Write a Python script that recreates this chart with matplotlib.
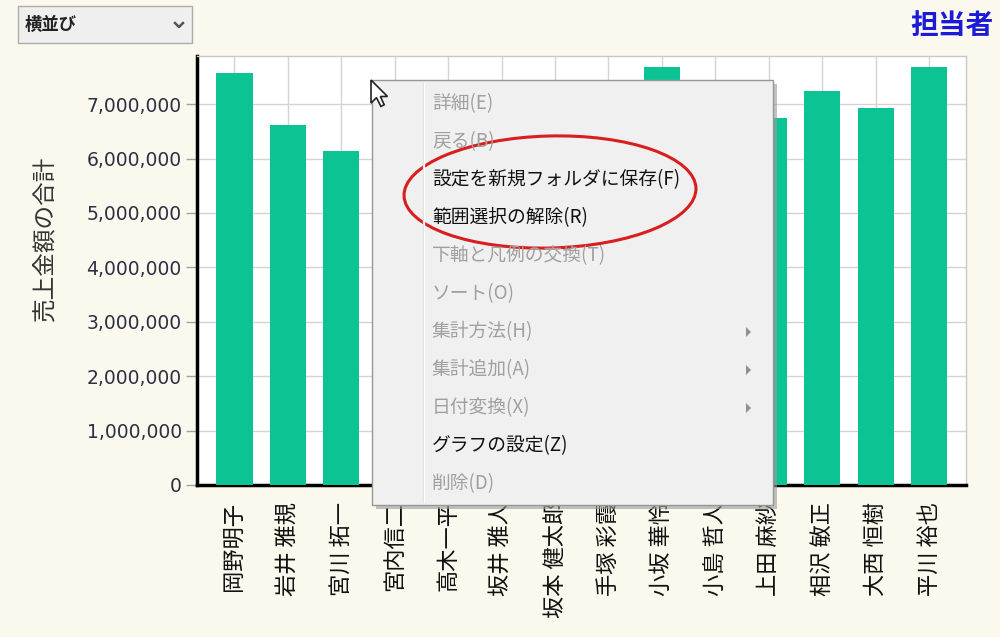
import numpy as np
import matplotlib
matplotlib.use("Agg")
import matplotlib.pyplot as plt
from matplotlib.patches import Rectangle, Ellipse, Polygon
from matplotlib.ticker import FuncFormatter

JP = ['Noto Sans CJK JP', 'DejaVu Sans']

# data (bars 4-8 and 10 are hidden under the menu in the reference, values estimated)
names = ['岡野明子', '岩井 雅規', '宮川 拓一', '宮内信二', '高木一平', '坂井 雅人', '坂本 健太郎',
         '手塚 彩霞', '小坂 華怜', '小島 哲人', '上田 麻紗', '相沢 敏正', '大西 恒樹', '平川 裕也']
sales = [7570000, 6610000, 6130000, 5800000, 6900000, 6300000, 7100000,
         6500000, 7680000, 7000000, 6740000, 7240000, 6920000, 7680000]
yticks = [0, 1000000, 2000000, 3000000, 4000000, 5000000, 6000000, 7000000]

menu_items = ['詳細(E)', '戻る(B)', '設定を新規フォルダに保存(F)', '範囲選択の解除(R)', '下軸と凡例の交換(T)',
              'ソート(O)', '集計方法(H)', '集計追加(A)', '日付変換(X)', 'グラフの設定(Z)', '削除(D)']
menu_enabled = [False, False, True, True, False, False, False, False, False, True, False]
menu_submenu = [False, False, False, False, False, False, True, True, True, False, False]

W, H = 1000, 637
fig = plt.figure(figsize=(10, 6.37), dpi=100)
fig.patch.set_facecolor('#fbf8ee')

# main chart
ax = fig.add_axes([197 / W, (H - 485) / H, (966 - 197) / W, (485 - 56) / H])
ax.set_facecolor('white')
x = np.arange(len(names))
ax.bar(x, sales, width=0.68, color='#0cc493', zorder=3)
ax.set_xlim(-0.7, len(names) - 1 + 0.69)
ax.set_ylim(0, 7884000)
ax.set_yticks(yticks)
ax.yaxis.set_major_formatter(FuncFormatter(lambda v, p: f'{int(v):,}'))
ax.set_xticks(x)
ax.set_xticklabels(names, rotation=90, family=JP, fontsize=16, color='#111111')
ax.tick_params(axis='x', length=0, pad=12)
ax.tick_params(axis='y', length=8, width=1, color='#a0a0a0', labelsize=13.5, labelcolor='#2e2e44', pad=3)
ax.grid(True, color='#d4d4d4', linewidth=1, zorder=0)
ax.set_axisbelow(True)
for s in ['top', 'right']:
    ax.spines[s].set_color('#c8c8c8')
    ax.spines[s].set_linewidth(1)
for s in ['left', 'bottom']:
    ax.spines[s].set_color('black')
    ax.spines[s].set_linewidth(2.5)
ax.set_ylabel('売上金額の合計', family=JP, fontsize=17, color='#333333')
ax.yaxis.set_label_coords(-141 / 769, 0.575)

# overlay in pixel coordinates for the UI parts
ov = fig.add_axes([0, 0, 1, 1], zorder=10)
ov.set_xlim(0, W)
ov.set_ylim(H, 0)
ov.axis('off')
ov.patch.set_alpha(0)

# combo box
ov.add_patch(Rectangle((18, 6), 174, 37, facecolor='#efefef', edgecolor='#acacac', linewidth=1))
ov.text(25, 25, '横並び', family=JP, fontsize=12.5, fontweight='bold', color='#222222', va='center')
ov.plot([175, 179, 183], [23, 27, 23], color='#555555', linewidth=1.8)

# title
ov.text(993, 26, '担当者', family=JP, fontsize=20, fontweight='bold', color='#1a1ad8',
        ha='right', va='center')

# context menu
mx0, my0, mx1, my1 = 372, 80, 773, 505
ov.add_patch(Rectangle((mx0 + 4, my0 + 4), mx1 - mx0, my1 - my0, facecolor='#9a9a9a',
                       edgecolor='none', alpha=0.6))
ov.add_patch(Rectangle((mx0, my0), mx1 - mx0, my1 - my0, facecolor='#f0f0f0',
                       edgecolor='#979797', linewidth=1))
ov.plot([423, 423], [my0 + 3, my1 - 3], color='#dcdcdc', linewidth=1)
ov.plot([424, 424], [my0 + 3, my1 - 3], color='#ffffff', linewidth=1)
for i, (label, on, sub) in enumerate(zip(menu_items, menu_enabled, menu_submenu)):
    yy = 104 + i * 38
    ov.text(432, yy, label, family=JP, fontsize=13.5, va='center',
            color='#111111' if on else '#a0a0a0')
    if sub:
        ov.add_patch(Polygon([[746, yy - 5], [746, yy + 5], [751, yy]], closed=True,
                             facecolor='#909090', edgecolor='none'))

# red ellipse
ov.add_patch(Ellipse((550, 192), 292, 112, angle=-1.5, fill=False, edgecolor='#d81e1e', linewidth=2.2))

# mouse cursor
cur = np.array([[0, 0], [0, 21], [5, 16], [9, 24], [12, 22.5], [8.5, 15], [15, 15]]) * 1.1
cur = cur + np.array([371, 80])
ov.add_patch(Polygon(cur, closed=True, facecolor='white', edgecolor='#222222', linewidth=1.2))

fig.savefig('out.png', dpi=100, facecolor=fig.get_facecolor())
